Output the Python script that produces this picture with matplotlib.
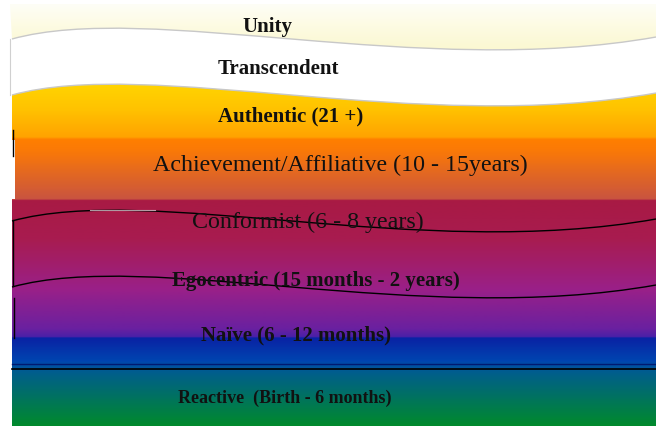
import numpy as np
import matplotlib.pyplot as plt
from matplotlib.path import Path
from matplotlib.patches import PathPatch, Rectangle
from matplotlib.colors import LinearSegmentedColormap

# stage labels, top to bottom
labels = ["Unity", "Transcendent", "Authentic (21 +)",
          "Achievement/Affiliative (10 - 15years)", "Conformist (6 - 8 years)",
          "Egocentric (15 months - 2 years)", "Naïve (6 - 12 months)",
          "Reactive  (Birth - 6 months)"]
label_x = [267, 278, 291, 340, 308, 316, 296, 285]
label_y = [27, 69, 116, 165, 222, 281, 335, 398]
label_size = [15, 15, 15, 17.3, 17.3, 15, 15, 13]
label_bold = [True, True, True, False, False, True, True, True]

# wave shape (cubic bezier, pixel coords) and the offsets of each wave
wave_shape = [(12, 40), (150, 2), (420, 80), (656, 38)]
wave_offsets = [0, 56, 182, 248]   # unity/transc, transc/authentic, conformist, egocentric

# vertical colour stops of the main gradient (pixel y, colour)
stops_y = [85, 110, 138, 140, 150, 200, 201, 240, 290, 330, 338, 339, 362, 372, 427]
stops_c = ["#ffd400", "#ffc200", "#ffa200", "#ff7f00", "#fb7a06", "#c95440",
           "#a81a44", "#a81c50", "#9a2088", "#6a20a0", "#4a20a8", "#0a22a4",
           "#0044b0", "#005c90", "#008a2c"]

W, H = 656, 427
fig = plt.figure(figsize=(6.56, 4.27), dpi=100)
ax = fig.add_axes([0, 0, 1, 1])
ax.set_xlim(0, W)
ax.set_ylim(H, 0)
ax.axis("off")


def wave(off, reverse=False):
    pts = [(x, y + off) for x, y in wave_shape]
    if reverse:
        pts = pts[::-1]
    return pts


def wave_path(off):
    return Path(wave(off), [Path.MOVETO, Path.CURVE4, Path.CURVE4, Path.CURVE4])


# Unity band (pale yellow)
p = wave(0)
verts = [(10, 5), (W, 5), (W, p[3][1])] + wave(0, True)[1:] + [(10, 5)]
codes = [Path.MOVETO, Path.LINETO, Path.LINETO, Path.CURVE4, Path.CURVE4, Path.CURVE4, Path.CLOSEPOLY]
unity_img = ax.imshow(np.linspace(0, 1, 50).reshape(-1, 1), aspect="auto",
                      cmap=LinearSegmentedColormap.from_list("u", ["#fefef6", "#fdfbe2", "#fbf8d2"]),
                      extent=[10, W, 50, 5], zorder=1)
unity_img.set_clip_path(PathPatch(Path(verts, codes), transform=ax.transData))

# main gradient below the second wave
off = wave_offsets[1]
verts = wave(off) + [(W, H), (12, H), (12, wave_shape[0][1] + off)]
codes = [Path.MOVETO, Path.CURVE4, Path.CURVE4, Path.CURVE4, Path.LINETO, Path.LINETO, Path.CLOSEPOLY]
pos = [(y - stops_y[0]) / (stops_y[-1] - stops_y[0]) for y in stops_y]
cmap = LinearSegmentedColormap.from_list("bands", list(zip(pos, stops_c)), N=512)
img = ax.imshow(np.linspace(0, 1, 500).reshape(-1, 1), aspect="auto", cmap=cmap,
                extent=[12, W, H, stops_y[0]], zorder=1, interpolation="bilinear")
img.set_clip_path(PathPatch(Path(verts, codes), transform=ax.transData))

# small white notch on the left of the orange band
ax.add_patch(Rectangle((12, 141), 3, 59, color="white", zorder=2, lw=0))

# outline of transcendent band (grey waves) and black waves
for off, col in zip(wave_offsets, ["#c8c8c8", "#c8c8c8", "black", "black"]):
    ax.add_patch(PathPatch(wave_path(off), fill=False, ec=col, lw=1, zorder=3))
ax.plot([10, 10], [40, 96], color="#d0d0d0", lw=0.8, zorder=3)

# faint glint on the conformist wave
ax.plot([90, 155], [210.5, 210.5], color="#f4dce6", lw=0.8, alpha=0.7, zorder=3)

# left black edge pieces
ax.plot([13, 13], [131, 157], color="black", lw=1, zorder=3)
ax.plot([13, 13], [221, 287], color="black", lw=1, zorder=3)
ax.plot([14, 14], [299, 339], color="black", lw=1, zorder=3)

# horizontal lines at the blue / teal border
ax.plot([12, W], [365, 365], color="#001a70", lw=1, zorder=3)
ax.plot([12, W], [370, 370], color="black", lw=1.2, zorder=3)

for t, x, y, s, b in zip(labels, label_x, label_y, label_size, label_bold):
    ax.text(x, y, t, ha="center", va="center", fontsize=s, color="#111111",
            fontweight="bold" if b else "normal", family="Liberation Serif", zorder=4)

fig.savefig("out.png", dpi=100)
